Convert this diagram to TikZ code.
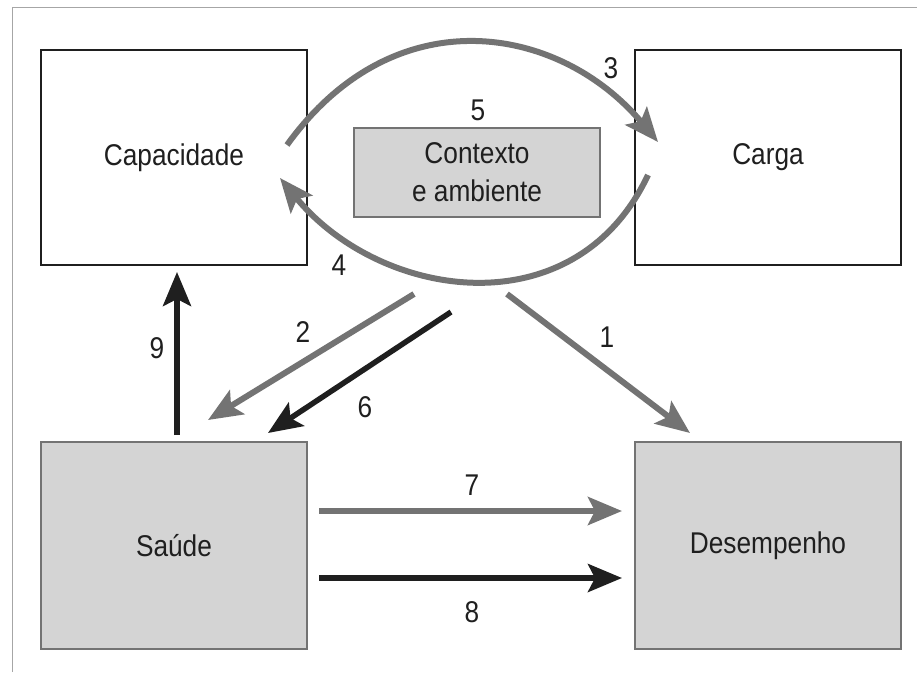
\documentclass[tikz,border=0pt]{standalone}
\usepackage{fontspec}
\setmainfont{Liberation Sans}[FakeStretch=0.875]
\usetikzlibrary{arrows.meta}
\definecolor{arrgray}{gray}{0.45}
\definecolor{boxfill}{gray}{0.83}
\definecolor{boxline}{gray}{0.45}
\definecolor{framegray}{gray}{0.65}
\definecolor{inkblack}{gray}{0.12}
\begin{document}
\begin{tikzpicture}[x=1pt,y=-1pt,
  txt/.style={font=\fontsize{30}{38}\selectfont, text=inkblack, inner sep=0pt},
  whitebox/.style={txt, draw=inkblack, line width=2pt, fill=white, minimum width=266pt, minimum height=215pt},
  graybox/.style={txt, draw=boxline, line width=2pt, fill=boxfill, minimum width=266pt, minimum height=207pt},
  tipstyle/.style={-{Stealth[length=34pt,width=28pt,inset=7pt]}},
  garr/.style={draw=arrgray, line width=6pt, tipstyle},
  barr/.style={draw=inkblack, line width=5.5pt, tipstyle},
  num/.style={txt}]
\useasboundingbox (0,0) rectangle (917,672);
% outer frame (cut at the right and bottom edges)
\draw[framegray, line width=1.5pt] (12.5,672) -- (12.5,7.5) -- (917,7.5);

% boxes
\node[whitebox] (cap) at (174,157.5) {Capacidade};
\node[whitebox] (carga) at (768,157.5) {Carga};
\node[graybox] (saude) at (174,545.5) {Saúde};
\node[graybox] (desemp) at (768,545.5) {Desempenho};
\node[txt, draw=boxline, line width=2pt, fill=boxfill, minimum width=246pt, minimum height=89pt, align=center] (ctx) at (477,172.5) {Contexto\\e ambiente};

% arc ends
\coordinate (a3s) at (287,145);
\coordinate (a3e) at (658,142);
\coordinate (a4s) at (648,175);
\coordinate (a4e) at (280,178);

% arcs 3 and 4
\draw[garr] (a3s) .. controls (395,-5) and (560,25) .. (a3e);
\draw[garr] (a4s) .. controls (575,330) and (380,300) .. (a4e);

% diagonal arrows
\coordinate (s1) at (507,294);
\coordinate (t1) at (690,433);
\coordinate (s2) at (414,294);
\coordinate (t2) at (208,420);
\coordinate (s6) at (451,312);
\coordinate (t6) at (268,433);
\draw[garr] (s1) -- (t1);
\draw[garr] (s2) -- (t2);
\draw[barr] (s6) -- (t6);

% arrow 9
\coordinate (s9) at (177,435);
\coordinate (t9) at (177,272);
\draw[barr] (s9) -- (t9);

% arrows 7 and 8
\coordinate (s7) at (319,511);
\coordinate (t7) at (622,511);
\coordinate (s8) at (319,578);
\coordinate (t8) at (622,578);
\draw[garr] (s7) -- (t7);
\draw[barr] (s8) -- (t8);

% labels
\node[num] (n1) at (607,337) {1};
\node[num] (n2) at (303,332) {2};
\node[num] (n3) at (611,68) {3};
\node[num] (n4) at (339,265) {4};
\node[num] (n5) at (478,110) {5};
\node[num] (n6) at (365,407) {6};
\node[num] (n7) at (472,485) {7};
\node[num] (n8) at (472,612) {8};
\node[num] (n9) at (157,348) {9};
\end{tikzpicture}
\end{document}
